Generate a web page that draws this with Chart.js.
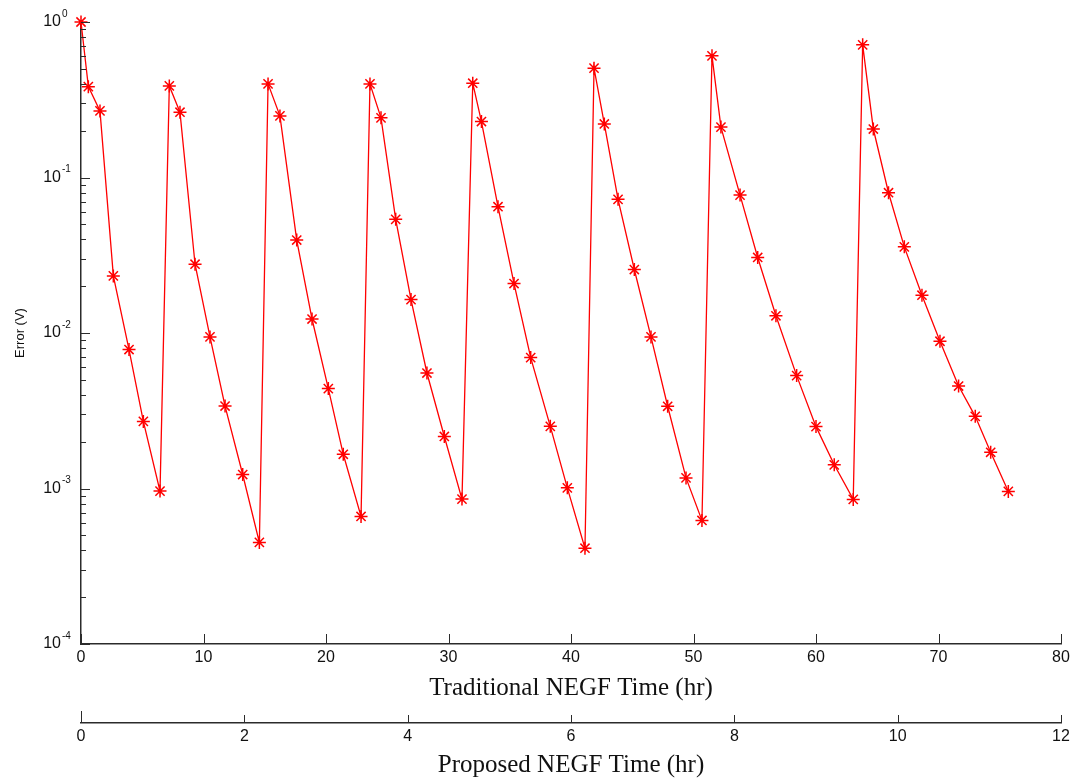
<!DOCTYPE html>
<html>
<head>
<meta charset="utf-8">
<script src="https://cdn.jsdelivr.net/npm/chart.js@4.4.0/dist/chart.umd.min.js"></script>
<style>
  html, body { margin: 0; padding: 0; background: #fff; }
  #wrap { width: 1076px; height: 778px; }
</style>
</head>
<body>
<div id="wrap"><canvas id="chart" width="1076" height="778"></canvas></div>
<script>
// Traditional NEGF time (hr) for each sample
const tradTime = [
    0, 0.6, 1.55, 2.64, 3.92, 5.09, 6.45,
    7.21, 8.08, 9.31, 10.53, 11.76, 13.2, 14.56,
    15.27, 16.24, 17.61, 18.86, 20.19, 21.41, 22.86,
    23.59, 24.49, 25.69, 26.94, 28.24, 29.66, 31.1,
    31.98, 32.69, 34.04, 35.35, 36.71, 38.31, 39.7, 41.14,
    41.88, 42.72, 43.84, 45.17, 46.53, 47.89, 49.39, 50.69,
    51.51, 52.24, 53.8, 55.24, 56.73, 58.42, 60.0, 61.49, 63.04,
    63.81, 64.68, 65.92, 67.21, 68.65, 70.12, 71.64, 73.0, 74.26, 75.7
];

// Error (V) at each sample
const errorV = [
    1.0, 0.384, 0.268, 0.0233, 0.00783, 0.0027, 0.000962,
    0.388, 0.263, 0.0277, 0.00944, 0.00339, 0.00123, 0.00045,
    0.4, 0.249, 0.0396, 0.0123, 0.00439, 0.00166, 0.000661,
    0.4, 0.242, 0.0538, 0.0164, 0.00553, 0.00216, 0.000855,
    0.404, 0.229, 0.0649, 0.0208, 0.00695, 0.00251, 0.00101, 0.000413,
    0.505, 0.221, 0.0724, 0.0256, 0.00944, 0.00338, 0.00117, 0.000623,
    0.606, 0.211, 0.0771, 0.0306, 0.0129, 0.00532, 0.0025, 0.00142, 0.000851,
    0.713, 0.205, 0.0798, 0.0358, 0.0175, 0.00885, 0.00456, 0.00291, 0.00171, 0.000958
];

// y axis decades (exponents of 10) and minor tick mantissas
const yDecades = [-4, -3, -2, -1, 0];
const minorMantissas = [2, 3, 4, 5, 6, 7, 8, 9];

const axisColor = '#2b2b2b';
const sansFont = '"Liberation Sans", Arial, sans-serif';
const serifFont = '"Liberation Serif", "Times New Roman", serif';

// Matlab style: ticks point inward, y labels are 10 with a superscript
const inwardTicks = {
    id: 'inwardTicks',
    afterDraw(chart) {
        const { ctx, chartArea: area } = chart;
        const y = chart.scales.y;
        const x = chart.scales.x;
        const x2 = chart.scales.x2;

        ctx.save();
        ctx.strokeStyle = axisColor;
        ctx.lineWidth = 1;
        ctx.beginPath();
        yDecades.forEach(e => {
            const py = Math.round(y.getPixelForValue(Math.pow(10, e))) + 0.5;
            ctx.moveTo(area.left, py);
            ctx.lineTo(area.left + 9, py);
            if (e < 0) {
                minorMantissas.forEach(m => {
                    const pm = Math.round(y.getPixelForValue(m * Math.pow(10, e))) + 0.5;
                    ctx.moveTo(area.left, pm);
                    ctx.lineTo(area.left + 5, pm);
                });
            }
        });
        x.ticks.forEach(t => {
            const px = Math.round(x.getPixelForValue(t.value)) + 0.5;
            ctx.moveTo(px, area.bottom);
            ctx.lineTo(px, area.bottom - 10);
        });
        x2.ticks.forEach(t => {
            const px = Math.round(x2.getPixelForValue(t.value)) + 0.5;
            ctx.moveTo(px, x2.top);
            ctx.lineTo(px, x2.top - (t.value === 0 ? 12 : 8));
        });
        ctx.stroke();

        ctx.fillStyle = '#111';
        ctx.textBaseline = 'middle';
        yDecades.forEach(e => {
            const py = y.getPixelForValue(Math.pow(10, e));
            ctx.font = '16px ' + sansFont;
            ctx.textAlign = 'right';
            ctx.fillText('10', area.left - 20, py);
            ctx.font = '10px ' + sansFont;
            ctx.textAlign = 'left';
            ctx.fillText(String(e), area.left - 19, py - 8);
        });
        ctx.restore();
    }
};

const chartCanvas = document.getElementById('chart').getContext('2d');

let myChart = new Chart(chartCanvas, {
    type: 'line',
    data: {
        datasets: [{
            data: tradTime.map((t, i) => ({ x: t, y: errorV[i] })),
            borderColor: '#ff0000',
            borderWidth: 1.3,
            pointStyle: 'star',
            pointRadius: 6.5,
            pointBorderWidth: 1.5,
            pointBorderColor: '#ff0000',
            pointBackgroundColor: '#ff0000',
            tension: 0,
            clip: false
        }]
    },
    options: {
        responsive: false,
        animation: false,
        layout: { padding: { top: 22, right: 15, left: 0, bottom: 0 } },
        plugins: { legend: { display: false }, tooltip: { enabled: false } },
        scales: {
            x: {
                type: 'linear',
                position: 'bottom',
                weight: 0,
                min: 0,
                max: 80,
                ticks: { stepSize: 10, padding: 4, color: '#111', font: { family: sansFont, size: 16 } },
                grid: { display: false, drawTicks: false },
                border: { display: true, color: axisColor, width: 1.5 },
                title: {
                    display: true,
                    text: 'Traditional NEGF Time (hr)',
                    color: '#111',
                    font: { family: serifFont, size: 25, lineHeight: 1 },
                    padding: { top: 0, bottom: 22 }
                },
                afterFit(scale) { scale.height = 79; }
            },
            x2: {
                type: 'linear',
                position: 'bottom',
                weight: 1,
                min: 0,
                max: 12,
                ticks: { stepSize: 2, padding: 4, color: '#111', font: { family: sansFont, size: 16 } },
                grid: { display: false, drawTicks: false },
                border: { display: true, color: axisColor, width: 1.5 },
                title: {
                    display: true,
                    text: 'Proposed NEGF Time (hr)',
                    color: '#111',
                    font: { family: serifFont, size: 25, lineHeight: 1 },
                    padding: { top: 0, bottom: 0 }
                },
                afterFit(scale) { scale.height = 55; }
            },
            y: {
                type: 'logarithmic',
                min: 1e-4,
                max: 1,
                ticks: { display: false },
                grid: { display: false, drawTicks: false },
                border: { display: true, color: axisColor, width: 1.5 },
                title: {
                    display: true,
                    text: 'Error (V)',
                    color: '#111',
                    font: { family: sansFont, size: 13 },
                    padding: { top: 13, bottom: 0 }
                },
                afterFit(scale) { scale.width = 81; }
            }
        }
    },
    plugins: [inwardTicks]
});
</script>
</body>
</html>
